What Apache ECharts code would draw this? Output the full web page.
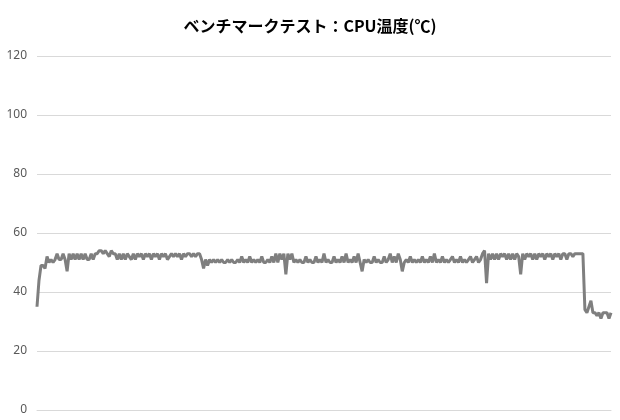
<!DOCTYPE html>
<html>
<head>
<meta charset="utf-8">
<script src="https://cdn.jsdelivr.net/npm/echarts@6/dist/echarts.min.js"></script>
<style>
  html, body { margin: 0; padding: 0; background: #fff; }
  #main { width: 620px; height: 420px; }
</style>
</head>
<body>
<div id="main"></div>
<script>
// temperature samples (℃)
var temps = [
  35, 44, 49, 49, 48, 52, 50, 51, 50, 51,
  53, 51, 51, 53, 51, 47, 53, 51, 53, 51,
  53, 51, 53, 51, 53, 51, 51, 53, 51, 53,
  53, 54, 54, 53, 54, 53, 52, 54, 53, 53,
  51, 53, 51, 53, 51, 53, 52, 51, 53, 51,
  53, 52, 53, 51, 53, 52, 53, 51, 53, 52,
  53, 51, 53, 52, 53, 51, 52, 53, 52, 53,
  52, 53, 51, 53, 52, 53, 53, 52, 53, 52,
  53, 53, 51, 48, 51, 49, 51, 50, 51, 50,
  51, 50, 51, 50, 50, 51, 50, 51, 50, 50,
  51, 50, 52, 50, 51, 50, 52, 50, 51, 50,
  51, 50, 52, 50, 50, 51, 50, 52, 50, 53,
  50, 53, 51, 53, 46, 53, 51, 53, 50, 51,
  50, 51, 50, 50, 52, 50, 51, 50, 50, 52,
  50, 51, 50, 53, 50, 51, 50, 50, 52, 50,
  51, 50, 52, 50, 53, 50, 51, 50, 52, 50,
  53, 50, 47, 51, 50, 51, 50, 50, 52, 50,
  51, 50, 50, 52, 50, 51, 53, 50, 52, 50,
  53, 51, 47, 50, 51, 50, 52, 50, 51, 50,
  51, 50, 52, 50, 51, 50, 52, 50, 53, 50,
  51, 50, 52, 50, 51, 50, 51, 52, 50, 51,
  50, 52, 50, 51, 50, 51, 52, 50, 51, 52,
  50, 51, 53, 54, 43, 53, 51, 53, 51, 53,
  51, 53, 52, 53, 51, 53, 51, 53, 51, 53,
  52, 46, 53, 51, 53, 52, 53, 51, 53, 51,
  53, 52, 53, 51, 53, 52, 53, 51, 53, 52,
  53, 51, 53, 53, 51, 53, 53, 52, 53, 53,
  53, 53, 53, 34, 33, 35, 37, 33, 33, 32,
  33, 31, 33, 33, 33, 31, 33
];
var samples = temps.map(function (v, i) { return String(i + 1); });
var titleText = 'ベンチマークテスト：CPU温度(℃)';

var chart = echarts.init(document.getElementById('main'));
var option = {
  backgroundColor: '#fff',
  animation: false,
  title: {
    text: titleText,
    left: 'center',
    top: 13,
    textStyle: {
      fontFamily: 'Noto Sans CJK JP',
      fontSize: 16,
      fontWeight: 'bold',
      color: '#000'
    }
  },
  grid: {
    left: 37,
    right: 9,
    top: 56,
    bottom: 10
  },
  xAxis: {
    type: 'category',
    data: samples,
    boundaryGap: false,
    axisLine: { lineStyle: { color: '#d9d9d9' } },
    axisTick: { show: false },
    axisLabel: { show: false },
    splitLine: { show: false }
  },
  yAxis: {
    type: 'value',
    min: 0,
    max: 120,
    interval: 20,
    axisLine: { show: false },
    axisTick: { show: false },
    axisLabel: {
      color: '#595959',
      fontSize: 12,
      fontFamily: 'Noto Sans',
      margin: 10
    },
    splitLine: { lineStyle: { color: '#d9d9d9', width: 1 } }
  },
  series: [{
    name: 'CPU温度',
    type: 'line',
    data: temps,
    showSymbol: false,
    lineStyle: { color: '#7f7f7f', width: 3 },
    itemStyle: { color: '#7f7f7f' }
  }]
};
chart.setOption(option);
</script>
</body>
</html>
